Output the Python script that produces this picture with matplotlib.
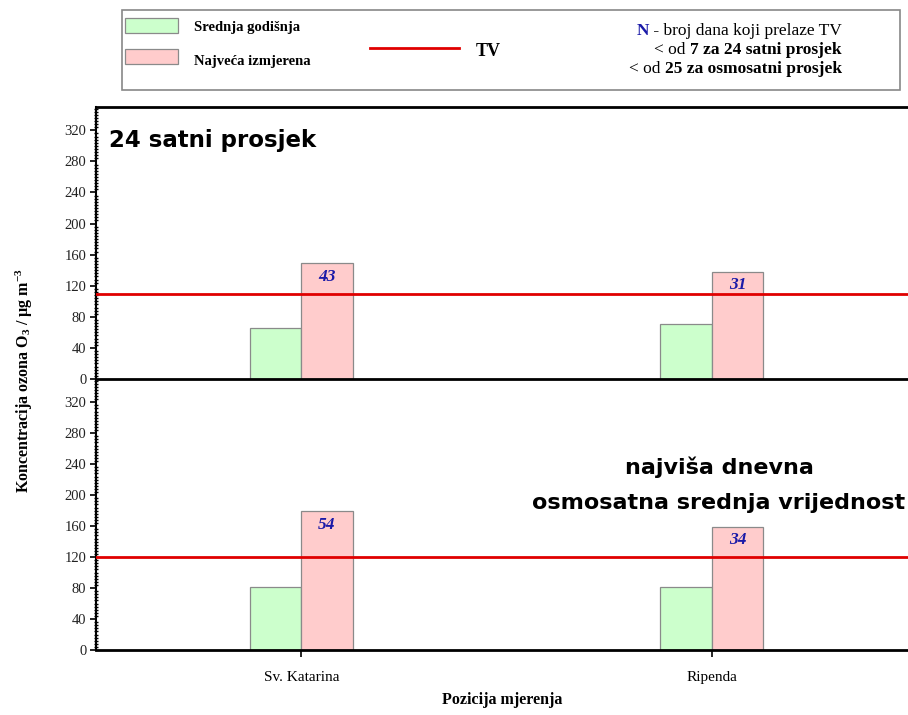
import matplotlib
matplotlib.use("Agg")
import matplotlib.pyplot as plt
from matplotlib.ticker import MultipleLocator
from matplotlib.patches import Rectangle
from matplotlib.lines import Line2D

# ---------------- data ----------------
stations = ["Sv. Katarina", "Ripenda"]
mean_24h = [65, 71]
max_24h = [149, 138]
n_24h = ["43", "31"]
tv_24h = 110

mean_8h = [81, 82]
max_8h = [179, 159]
n_8h = ["54", "34"]
tv_8h = 120

yticks = [0, 40, 80, 120, 160, 200, 240, 280, 320]

SERIF = "Liberation Serif"
GREEN = "#ccffcc"
PINK = "#ffcccc"
EDGE = "#8a8a8a"
RED = "#e00000"
BLUE = "#1a1aa8"

plt.rcParams["mathtext.fontset"] = "custom"
plt.rcParams["mathtext.rm"] = SERIF
plt.rcParams["mathtext.it"] = SERIF + ":italic"
plt.rcParams["mathtext.bf"] = SERIF + ":bold"

W, H = 908, 715
fig = plt.figure(figsize=(W / 100, H / 100), dpi=100)

def fx(px):
    return px / W

def fy(py):
    return 1 - py / H

left, right = 96, 917
ax_bot = fig.add_axes([fx(left), fy(650), fx(right - left), fy(379) - fy(650)])
ax_top = fig.add_axes([fx(left), fy(379), fx(right - left), fy(107) - fy(379)])
ax_top.patch.set_alpha(0)
ax_bot.patch.set_alpha(0)

bw = 0.125
x = list(range(len(stations)))

def draw(ax, means, maxs, ns, tv, show_x):
    ax.bar([i - bw / 2 for i in x], means, width=bw, color=GREEN, edgecolor=EDGE, linewidth=0.9, zorder=2)
    ax.bar([i + bw / 2 for i in x], maxs, width=bw, color=PINK, edgecolor=EDGE, linewidth=0.9, zorder=2)
    ax.axhline(tv, color=RED, linewidth=2, zorder=3)
    for i, (m, n) in enumerate(zip(maxs, ns)):
        ax.annotate(n, xy=(i + bw / 2, m), xytext=(0, -4), textcoords="offset points",
                    ha="center", va="top", fontsize=12.5, family=SERIF,
                    fontweight="bold", fontstyle="italic", color=BLUE, zorder=4)
    ax.set_xlim(-0.5, 1.5)
    ax.set_ylim(0, 350)
    ax.set_yticks(yticks)
    ax.yaxis.set_minor_locator(MultipleLocator(4))
    ax.tick_params(axis="y", which="major", direction="out", length=4, width=1.2,
                   labelsize=10.5, pad=3)
    ax.tick_params(axis="y", which="minor", direction="inout", length=3, width=1)
    for lab in ax.get_yticklabels():
        lab.set_family(SERIF)
        lab.set_color("#222222")
    ax.spines["right"].set_visible(False)
    ax.spines["left"].set_linewidth(1.5)
    ax.spines["top"].set_linewidth(2)
    ax.spines["bottom"].set_linewidth(2)
    if show_x:
        ax.set_xticks(x)
        ax.set_xticklabels(stations, family=SERIF, fontsize=11)
        ax.tick_params(axis="x", direction="out", length=5, width=1.2, pad=10)
    else:
        ax.set_xticks([])

draw(ax_top, mean_24h, max_24h, n_24h, tv_24h, False)
draw(ax_bot, mean_8h, max_8h, n_8h, tv_8h, True)
ax_bot.spines["top"].set_visible(False)

# panel titles
fig.text(fx(109), fy(141), "24 satni prosjek", ha="left", va="center",
         fontsize=16.5, fontweight="bold", family="DejaVu Sans")
fig.text(fx(719), fy(467), "najviša dnevna", ha="center", va="center",
         fontsize=16, fontweight="bold", family="DejaVu Sans")
fig.text(fx(719), fy(503), "osmosatna srednja vrijednost", ha="center", va="center",
         fontsize=16, fontweight="bold", family="DejaVu Sans")

# axis labels
fig.text(fx(24), fy(380), r"Koncentracija ozona O$_\mathbf{3}$ / µg m$^\mathbf{-3}$", rotation=90,
         ha="center", va="center", fontsize=11.5, fontweight="bold", family=SERIF)
fig.text(fx(502), fy(700), "Pozicija mjerenja", ha="center", va="center",
         fontsize=11.5, fontweight="bold", family=SERIF)

# legend box
fig.add_artist(Rectangle((fx(122), fy(90)), fx(900 - 122), fy(10) - fy(90),
                         transform=fig.transFigure, fill=False, edgecolor="#888888", linewidth=1.2))
fig.add_artist(Rectangle((fx(125), fy(33)), fx(53), fy(18) - fy(33), transform=fig.transFigure,
                         facecolor=GREEN, edgecolor=EDGE, linewidth=0.9))
fig.add_artist(Rectangle((fx(125), fy(64)), fx(53), fy(49) - fy(64), transform=fig.transFigure,
                         facecolor=PINK, edgecolor=EDGE, linewidth=0.9))
fig.text(fx(194), fy(27), "Srednja godišnja", ha="left", va="center", fontsize=10.5,
         fontweight="bold", family=SERIF)
fig.text(fx(194), fy(61), "Najveća izmjerena", ha="left", va="center", fontsize=10.5,
         fontweight="bold", family=SERIF)
fig.add_artist(Line2D([fx(370), fx(459)], [fy(48), fy(48)], transform=fig.transFigure,
                      color=RED, linewidth=2))
fig.text(fx(476), fy(51), "TV", ha="left", va="center", fontsize=13,
         fontweight="bold", family=SERIF)

# right legend text: pieces (text, bold, color), right aligned at x=842
lines = [
    [("N", True, BLUE), (" - broj dana koji prelaze TV", False, "black")],
    [("< od ", False, "black"), ("7 za 24 satni prosjek", True, "black")],
    [("< od ", False, "black"), ("25 za osmosatni prosjek", True, "black")],
]
ys = [31, 50, 69]
renderer = fig.canvas.get_renderer()
for pieces, yy in zip(lines, ys):
    xr = fx(842)
    for txt, bold, col in reversed(pieces):
        t = fig.text(xr, fy(yy), txt, ha="right", va="center", fontsize=12.5,
                     fontweight="bold" if bold else "normal", family=SERIF, color=col)
        bb = t.get_window_extent(renderer=renderer)
        xr = bb.x0 / W

fig.savefig("out.png", dpi=100)
